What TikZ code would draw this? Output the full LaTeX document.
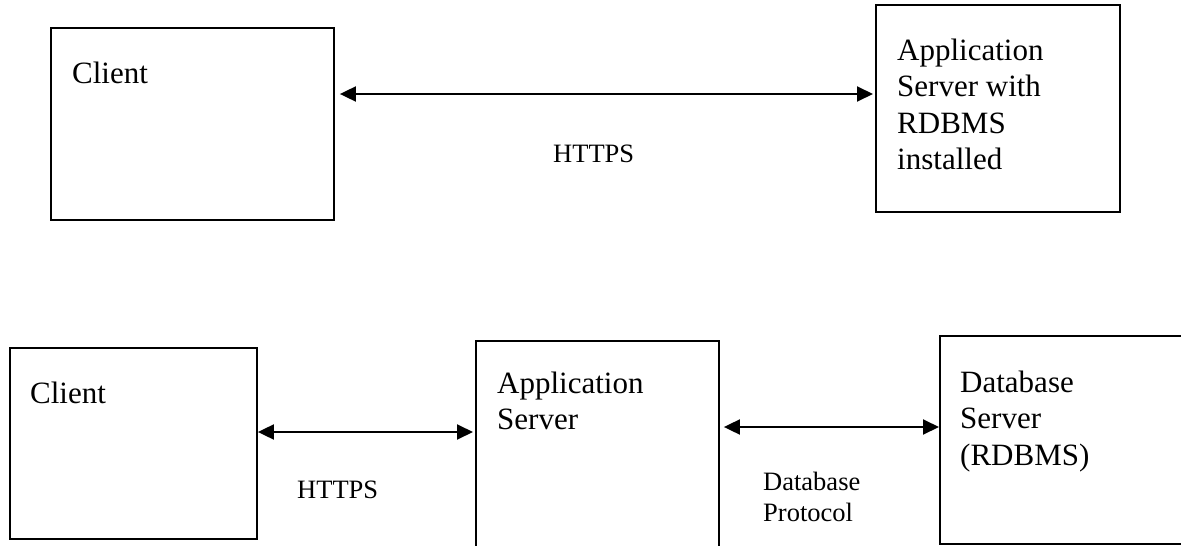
\documentclass[tikz,border=0pt]{standalone}
\usepackage{fontspec}
\setmainfont{Liberation Serif}
\usetikzlibrary{arrows.meta,calc}

\newcommand{\boxfont}{\fontsize{31}{36.5}\selectfont}
\newcommand{\labfont}{\fontsize{26.5}{31}\selectfont}

\tikzset{
  tier/.style={draw=black, line width=1.9pt, rectangle, inner sep=0pt,
               anchor=north west, fill=white},
  tiertext/.style={anchor=base west, inner sep=0pt, font=\boxfont},
  linktext/.style={anchor=base west, inner sep=0pt, font=\labfont},
  link/.style={line width=1.9pt, {Triangle[length=16pt,width=15pt]}-{Triangle[length=16pt,width=15pt]}}
}

\begin{document}
\begin{tikzpicture}[x=1pt, y=-1pt]
  \useasboundingbox (0,0) rectangle (1181,546);
  \clip (0,0) rectangle (1181,546);

  % two-tier layout
  \node[tier, minimum width=283pt, minimum height=192pt] (client1) at (50,27) {};
  \node[tier, minimum width=244pt, minimum height=207pt] (app1) at (875,4) {};
  \node[tiertext] (client1t) at (72,83) {Client};
  \node[tiertext] (app1t) at (897,60)
    {\begin{tabular}[t]{@{}l@{}}Application\\Server with\\RDBMS\\installed\end{tabular}};
  \draw[link] ($(client1.north east)+(5,67)$) -- ($(app1.west |- client1.north east)+(-2,67)$);
  \node[linktext] (https1) at (553,162) {HTTPS};

  % three-tier layout
  \node[tier, minimum width=247pt, minimum height=191pt] (client2) at (9,347) {};
  \node[tier, minimum width=243pt, minimum height=240pt] (app2) at (475,340) {};
  \node[tier, minimum width=260pt, minimum height=208pt] (db2) at (939,335) {};
  \node[tiertext] (client2t) at (30,403) {Client};
  \node[tiertext] (app2t) at (497,393)
    {\begin{tabular}[t]{@{}l@{}}Application\\Server\end{tabular}};
  \node[tiertext] (db2t) at (960,392)
    {\begin{tabular}[t]{@{}l@{}}Database\\Server\\(RDBMS)\end{tabular}};
  \draw[link] ($(client2.north east)+(0,85)$) -- ($(app2.west |- client2.north east)+(-2,85)$);
  \draw[link] ($(app2.north east)+(4,87)$) -- ($(db2.west |- app2.north east)+(0,87)$);
  \node[linktext] (https2) at (297,498) {HTTPS};
  \node[linktext] (dbproto) at (763,490)
    {\fontsize{26.5}{31}\selectfont\begin{tabular}[t]{@{}l@{}}Database\\Protocol\end{tabular}};
\end{tikzpicture}
\end{document}
